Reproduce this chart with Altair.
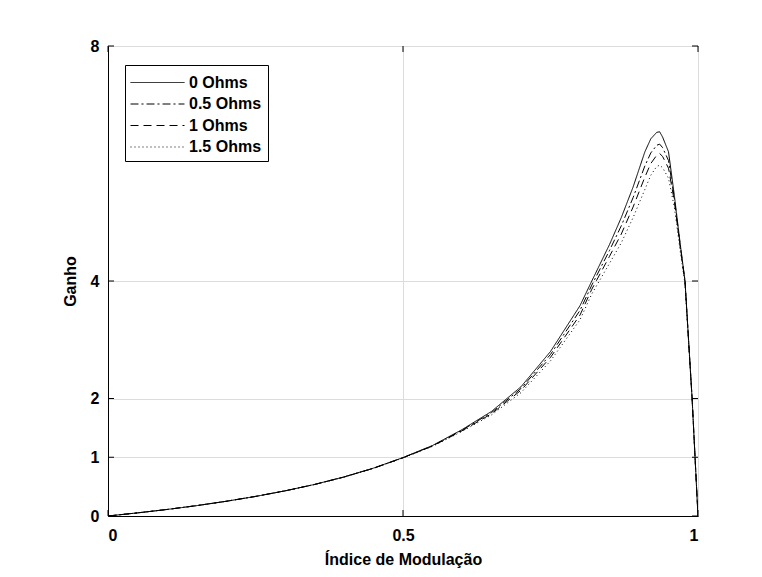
import altair as alt
import pandas as pd

# Modulation index (x)
m = [0, 0.05, 0.1, 0.15, 0.2, 0.25, 0.3, 0.35, 0.4, 0.45, 0.5, 0.55, 0.6, 0.65,
     0.7, 0.75, 0.8, 0.82, 0.85, 0.87, 0.89, 0.91, 0.92, 0.93, 0.935, 0.94,
     0.95, 0.96, 0.97, 0.978, 0.99, 0.995, 1.0]

g_0 = [0, 0.053, 0.111, 0.176, 0.25, 0.333, 0.428, 0.537, 0.665, 0.815, 0.995, 1.2,
       1.47, 1.78, 2.2, 2.8, 3.58, 4.0, 4.62, 5.08, 5.6, 6.2, 6.42, 6.53, 6.54, 6.45,
       6.2, 5.45, 4.62, 4.0, 2.0, 1.0, 0]
g_05 = [0, 0.053, 0.111, 0.176, 0.25, 0.333, 0.428, 0.537, 0.665, 0.814, 0.993, 1.195,
        1.46, 1.76, 2.17, 2.75, 3.5, 3.93, 4.52, 4.94, 5.42, 5.96, 6.18, 6.31, 6.33, 6.27,
        6.05, 5.4, 4.6, 4.0, 2.0, 1.0, 0]
g_1 = [0, 0.053, 0.111, 0.176, 0.25, 0.333, 0.428, 0.536, 0.663, 0.812, 0.99, 1.19,
       1.45, 1.74, 2.14, 2.7, 3.42, 3.86, 4.42, 4.8, 5.26, 5.77, 6.0, 6.14, 6.17, 6.12,
       5.92, 5.35, 4.57, 3.98, 2.0, 1.0, 0]
g_15 = [0, 0.053, 0.111, 0.176, 0.25, 0.333, 0.427, 0.535, 0.661, 0.81, 0.987, 1.185,
        1.44, 1.72, 2.1, 2.64, 3.34, 3.78, 4.3, 4.65, 5.08, 5.56, 5.8, 5.95, 5.97, 5.93,
        5.75, 5.25, 4.5, 3.95, 2.0, 1.0, 0]

series_names = ["0 Ohms", "0.5 Ohms", "1 Ohms", "1.5 Ohms"]
series_values = [g_0, g_05, g_1, g_15]
dashes = [[1, 0], [8, 3, 2, 3], [8, 5], [1, 3]]

x_ticks = [0, 0.5, 1]
y_ticks = [0, 1, 2, 4, 8]

rows = []
for name, vals in zip(series_names, series_values):
    for xv, yv in zip(m, vals):
        rows.append({"m": xv, "g": yv, "s": name})
df = pd.DataFrame(rows)

FONT = "Liberation Sans"
W, H = 590, 470

xs = alt.Scale(domain=[0, 1], nice=False)
ys = alt.Scale(domain=[0, 8], nice=False)

lines = alt.Chart(df).mark_line(strokeWidth=1, color="black", clip=True).encode(
    x=alt.X("m:Q", scale=xs, title="Índice de Modulação",
            axis=alt.Axis(values=x_ticks, format="~g", grid=True, gridColor="#dcdcdc",
                          tickSize=0, labelPadding=11, titlePadding=8,
                          domainColor="black")),
    y=alt.Y("g:Q", scale=ys, title="Ganho",
            axis=alt.Axis(values=y_ticks, format="~g", grid=True, gridColor="#dcdcdc",
                          tickSize=0, labelPadding=9, titlePadding=12,
                          domainColor="black")),
    strokeDash=alt.StrokeDash(
        "s:N",
        scale=alt.Scale(domain=series_names, range=dashes),
        legend=alt.Legend(
            title=None, orient="none", legendX=17, legendY=19,
            strokeColor="black", fillColor="white", padding=6,
            symbolType="M-2.4545,0H2.4545", symbolSize=484, symbolStrokeWidth=1,
            symbolStrokeColor="black", labelFont=FONT, labelFontSize=16,
            labelFontWeight="bold", labelColor="black", rowPadding=1.5,
            labelOffset=20, symbolOffset=15,
        ),
    ),
    detail="s:N",
)

ydf = pd.DataFrame({"v": y_ticks})
xdf = pd.DataFrame({"v": x_ticks})

yt_left = alt.Chart(ydf).mark_rule(color="black", strokeWidth=1).encode(
    y=alt.Y("v:Q", scale=ys), x=alt.value(0), x2=alt.value(6))
yt_right = alt.Chart(ydf).mark_rule(color="black", strokeWidth=1).encode(
    y=alt.Y("v:Q", scale=ys), x=alt.value(W - 6), x2=alt.value(W))
xt_bot = alt.Chart(xdf).mark_rule(color="black", strokeWidth=1).encode(
    x=alt.X("v:Q", scale=xs), y=alt.value(H - 6), y2=alt.value(H))
xt_top = alt.Chart(xdf).mark_rule(color="black", strokeWidth=1).encode(
    x=alt.X("v:Q", scale=xs), y=alt.value(0), y2=alt.value(6))

chart = alt.layer(lines, yt_left, yt_right, xt_bot, xt_top).properties(
    width=W, height=H,
    autosize=alt.AutoSizeParams(type="none"),
    padding={"left": 108, "top": 46, "right": 64, "bottom": 61},
    background="white",
).configure_view(stroke="black", strokeWidth=1).configure_axis(
    labelFont=FONT, labelFontSize=16, labelFontWeight="bold", labelColor="black",
    titleFont=FONT, titleFontSize=16, titleFontWeight="bold", titleColor="black",
)

chart.save("out.html", embed_options={"renderer": "svg", "actions": False})
